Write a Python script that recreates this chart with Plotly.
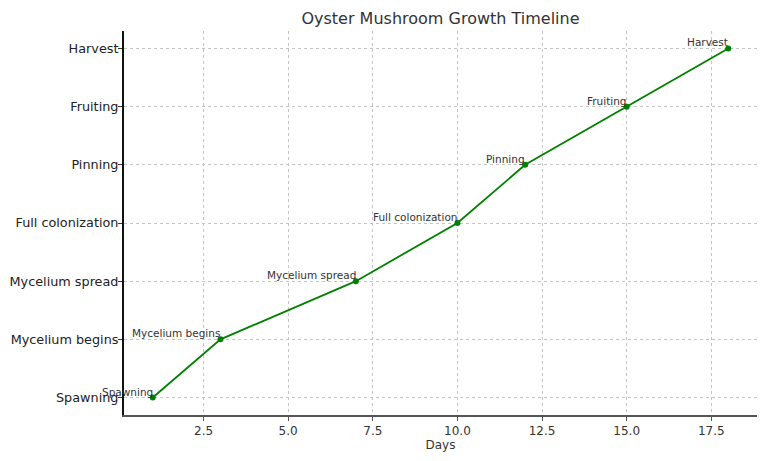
import plotly.graph_objects as go

days = [1, 3, 7, 10, 12, 15, 18]
stages = ["Spawning", "Mycelium begins", "Mycelium spread", "Full colonization",
          "Pinning", "Fruiting", "Harvest"]
stage_idx = list(range(len(stages)))

fig = go.Figure()
fig.add_trace(go.Scatter(
    x=days, y=stage_idx, mode="lines+markers",
    line=dict(color="#008000", width=1.8),
    marker=dict(color="#008000", size=6),
    showlegend=False,
))

for d, s, i in zip(days, stages, stage_idx):
    fig.add_annotation(x=d, y=i, text=s, showarrow=False,
                       xanchor="right", yanchor="bottom", yshift=-2, xshift=2,
                       font=dict(family="DejaVu Sans", size=10.5, color="#333333"))

# page body has an 8px default margin, so the figure is sized/offset to compensate
fig.update_layout(
    width=760, height=453,
    margin=dict(l=116, r=11, t=23, b=46, autoexpand=False),
    paper_bgcolor="white", plot_bgcolor="white",
    font=dict(family="DejaVu Sans", color="#222222"),
    title=dict(text="Oyster Mushroom Growth Timeline", xref="paper", x=0.5,
               xanchor="center", yref="container", y=0.978, yanchor="middle",
               font=dict(size=16, color="#333333")),
    xaxis=dict(
        range=[0.15, 18.85],
        tickvals=[2.5, 5.0, 7.5, 10.0, 12.5, 15.0, 17.5],
        ticktext=["2.5", "5.0", "7.5", "10.0", "12.5", "15.0", "17.5"],
        showgrid=True, gridcolor="#c4c4c4", griddash="dot", gridwidth=0.8,
        showline=True, linecolor="#555555", linewidth=1.5,
        ticks="outside", ticklen=4, tickcolor="#555555",
        tickfont=dict(size=12, color="#333333"),
        title=dict(text="Days", font=dict(size=12, color="#333333"), standoff=0),
        zeroline=False, automargin=False,
    ),
    yaxis=dict(
        range=[-0.3, 6.3],
        tickvals=stage_idx, ticktext=stages,
        showgrid=True, gridcolor="#c4c4c4", griddash="dot", gridwidth=0.8,
        showline=True, linecolor="#111111", linewidth=2,
        ticks="outside", ticklen=4, tickcolor="#333333",
        tickfont=dict(size=12.8, color="#222222"),
        ticklabelstandoff=-3,
        zeroline=False, automargin=False,
    ),
)

fig.write_html("out.html")
